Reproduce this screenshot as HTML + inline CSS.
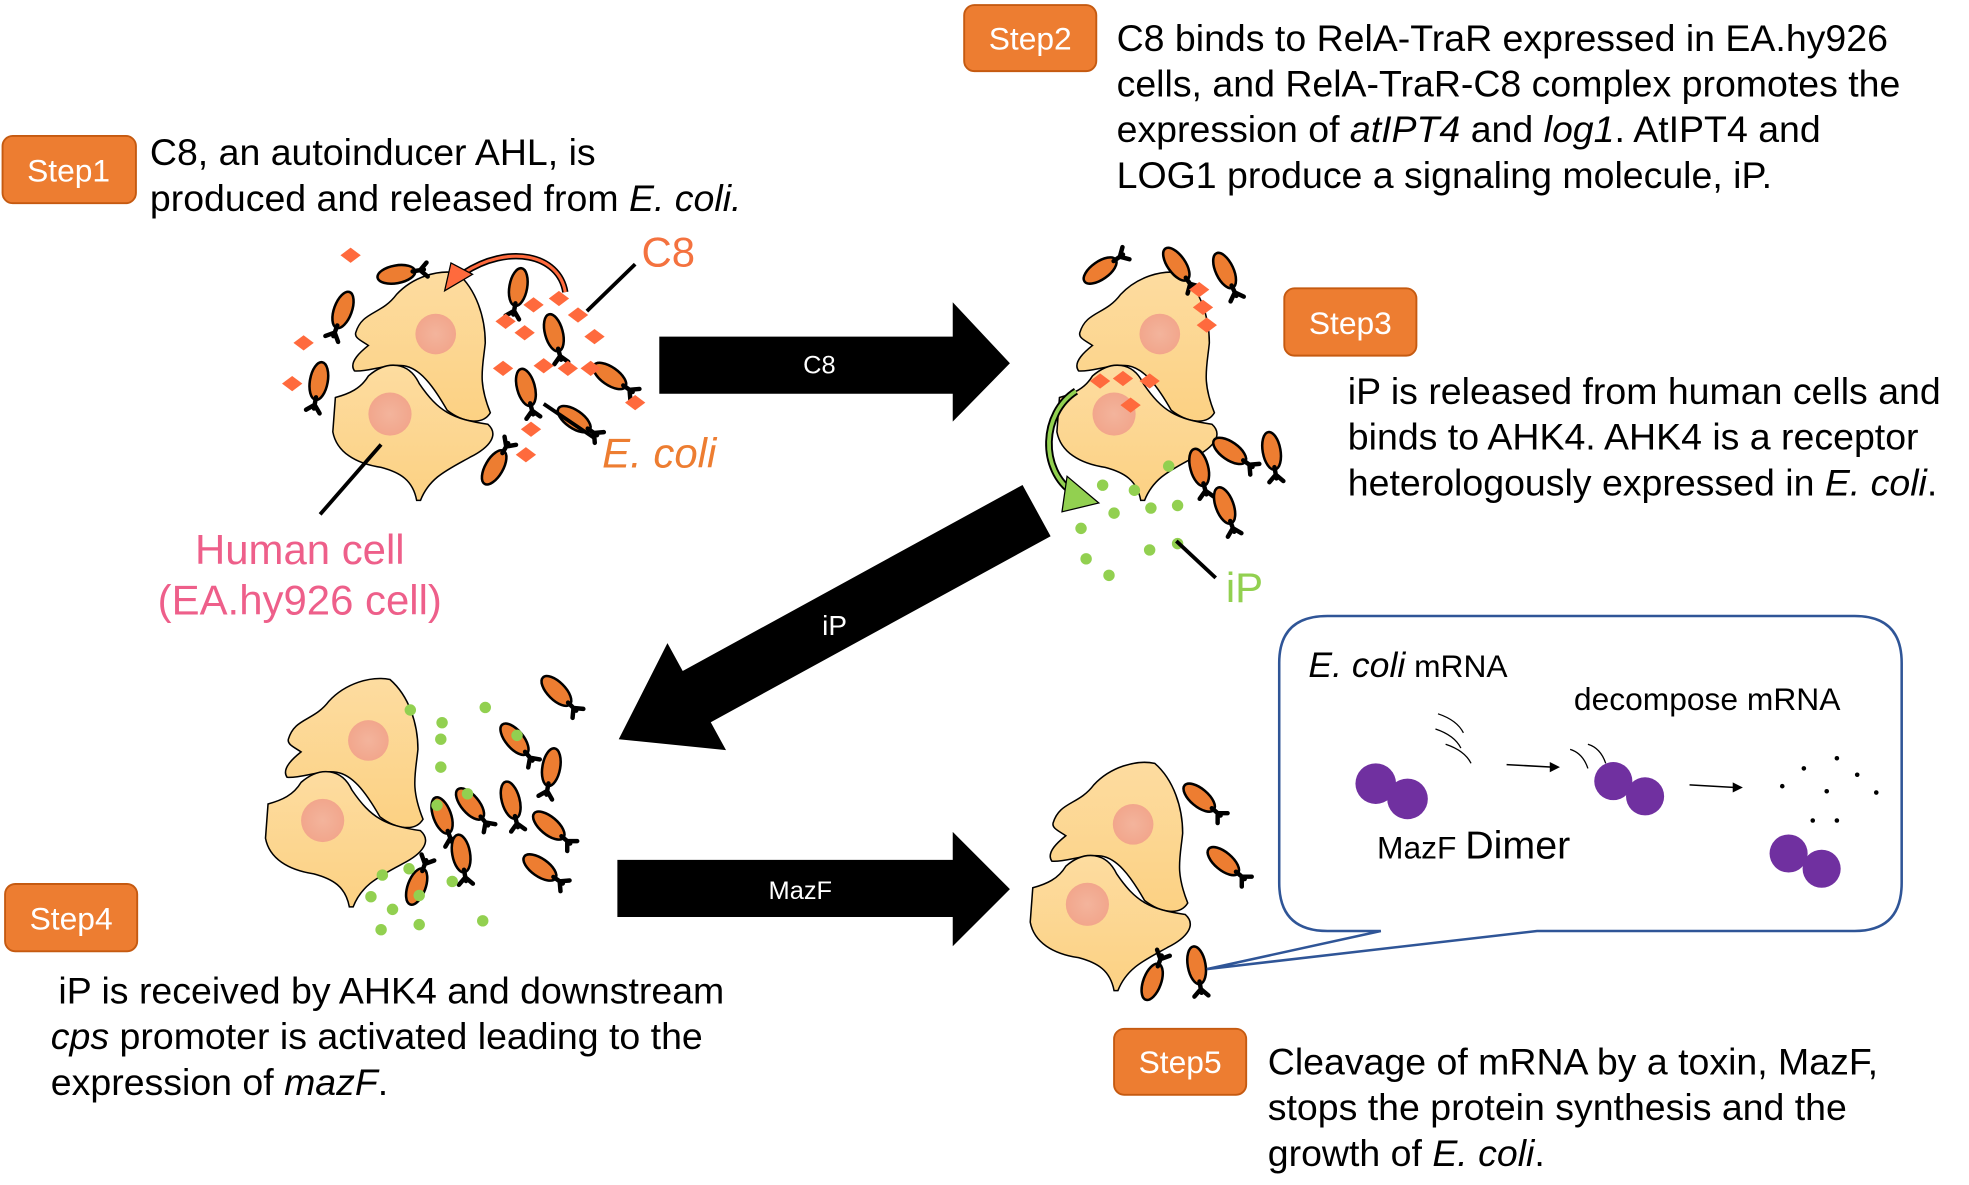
<!DOCTYPE html>
<html><head><meta charset="utf-8"><style>
html,body{margin:0;padding:0;background:#fff;}
svg{display:block;}
text{font-family:"Liberation Sans",sans-serif;}
</style></head><body>
<svg id="fig" width="1969" height="1185" viewBox="0 0 1550 933" preserveAspectRatio="none">
<defs>
<linearGradient id="cellg" x1="0" y1="0" x2="0" y2="1"><stop offset="0" stop-color="#FDDCA0"/><stop offset="1" stop-color="#FCD183"/></linearGradient>
<radialGradient id="nucg"><stop offset="0" stop-color="#F3B49C"/><stop offset="1" stop-color="#F2A68C"/></radialGradient>
<g id="cellpair">
<path d="M280,262 C285,245 300,248 312,232 C325,218 345,212 360,215 C375,228 382,250 382,270 C380,290 376,300 386,325 C380,335 365,333 352,323 C340,302 330,290 318,288 C305,286 290,293 279,292 C274,285 285,276 290,272 C284,268 279,266 280,262 Z" fill="url(#cellg)" stroke="#000" stroke-width="1.2"/>
<path d="M264,313 C275,310 284,306 290,296 C305,283 322,285 330,302 C345,324 356,330 384,334 C393,342 386,352 370,360 C352,370 338,376 331,394 L328,394 C325,378 315,372 300,368 C280,365 265,356 262,340 Z" fill="url(#cellg)" stroke="#000" stroke-width="1.2"/>
<circle cx="343" cy="263" r="16" fill="url(#nucg)"/>
<circle cx="307" cy="326" r="17" fill="url(#nucg)"/>
</g>
<g id="bact">
<ellipse cx="0" cy="0" rx="7" ry="15" fill="#ED7D31" stroke="#000" stroke-width="2"/>
<path d="M0,13 L0,22 M0,19 L-6,24 M0,19 L5,25" stroke="#000" stroke-width="3.5" fill="none" stroke-linecap="round"/>
</g>
</defs>

<use href="#cellpair"/>
<use href="#cellpair" transform="translate(570,0)"/>
<use href="#cellpair" transform="translate(-53,320)"/>
<use href="#cellpair" transform="translate(549,386)"/>
<g id="marks"></g>

<g>
<polygon points="519,265 750,265 750,238 795,286 750,332 750,310 519,310" fill="#000"/>
<text x="645" y="294" font-size="20" fill="#fff" text-anchor="middle">C8</text>
</g>
<g>
<polygon points="486,677 750,677 750,655 795,700 750,745 750,722 486,722" fill="#000"/>
<text x="630" y="708" font-size="20" fill="#fff" text-anchor="middle">MazF</text>
</g>
<g>
<g transform="translate(816,402) rotate(151.3)">
<polygon points="0,-23 305,-23 305,-48 375,0 305,48 305,23 0,23" fill="#000"/>
</g>
<text x="657" y="500" font-size="22" fill="#fff" text-anchor="middle">iP</text>
</g>

<path d="M445,230 C440,200 400,192 365,215" fill="none" stroke="#000" stroke-width="5"/>
<path d="M445,230 C440,200 400,192 365,215" fill="none" stroke="#FF6A3D" stroke-width="2.5"/>
<polygon points="350,229 355,207 372,216" fill="#FF6A3D" stroke="#000" stroke-width="1"/>
<path d="M847,308 C820,325 818,370 845,388" fill="none" stroke="#000" stroke-width="6"/>
<path d="M847,308 C820,325 818,370 845,388" fill="none" stroke="#92D050" stroke-width="3"/>
<polygon points="865,396 840,375 836,403" fill="#92D050" stroke="#000" stroke-width="1"/>

<line x1="500" y1="208" x2="462" y2="245" stroke="#000" stroke-width="3"/>
<line x1="428" y1="318" x2="468" y2="345" stroke="#000" stroke-width="3"/>
<line x1="252" y1="405" x2="300" y2="350" stroke="#000" stroke-width="3"/>
<line x1="926" y1="426" x2="957" y2="455" stroke="#000" stroke-width="3"/>

<text x="505" y="210" font-size="33" fill="#F4723F">C8</text>
<text x="474" y="368" font-size="33" fill="#ED7D31" font-style="italic">E. coli</text>
<text x="236" y="444" font-size="33" fill="#EE5F8A" text-anchor="middle">Human cell</text>
<text x="236" y="484" font-size="33" fill="#EE5F8A" text-anchor="middle">(EA.hy926 cell)</text>
<text x="965" y="474" font-size="33" fill="#92D050">iP</text>

<g><rect x="2" y="107" width="105" height="53" rx="8" fill="#ED7D31" stroke="#C55A11" stroke-width="1.5"/><text x="54" y="143" font-size="25" fill="#fff" text-anchor="middle">Step1</text></g>
<g><rect x="759" y="4" width="104" height="52" rx="8" fill="#ED7D31" stroke="#C55A11" stroke-width="1.5"/><text x="811" y="39" font-size="25" fill="#fff" text-anchor="middle">Step2</text></g>
<g><rect x="1011" y="227" width="104" height="53" rx="8" fill="#ED7D31" stroke="#C55A11" stroke-width="1.5"/><text x="1063" y="263" font-size="25" fill="#fff" text-anchor="middle">Step3</text></g>
<g><rect x="4" y="696" width="104" height="53" rx="8" fill="#ED7D31" stroke="#C55A11" stroke-width="1.5"/><text x="56" y="732" font-size="25" fill="#fff" text-anchor="middle">Step4</text></g>
<g><rect x="877" y="810" width="104" height="52" rx="8" fill="#ED7D31" stroke="#C55A11" stroke-width="1.5"/><text x="929" y="845" font-size="25" fill="#fff" text-anchor="middle">Step5</text></g>

<g font-size="29.5" fill="#000">
<text x="118" y="130">C8, an autoinducer AHL, is</text>
<text x="118" y="166">produced and released from <tspan font-style="italic">E. coli.</tspan></text>
</g>
<g font-size="29.5" fill="#000">
<text x="879" y="40">C8 binds to RelA-TraR expressed in EA.hy926</text>
<text x="879" y="76">cells, and RelA-TraR-C8 complex promotes the</text>
<text x="879" y="112">expression of <tspan font-style="italic">atIPT4</tspan> and <tspan font-style="italic">log1</tspan>. AtIPT4 and</text>
<text x="879" y="148">LOG1 produce a signaling molecule, iP.</text>
</g>
<g font-size="29.5" fill="#000">
<text x="1061" y="318">iP is released from human cells and</text>
<text x="1061" y="354">binds to AHK4. AHK4 is a receptor</text>
<text x="1061" y="390">heterologously expressed in <tspan font-style="italic">E. coli</tspan>.</text>
</g>
<g font-size="29.5" fill="#000">
<text x="46" y="790">iP is received by AHK4 and downstream</text>
<text x="40" y="826"><tspan font-style="italic">cps</tspan> promoter is activated leading to the</text>
<text x="40" y="862">expression of <tspan font-style="italic">mazF</tspan>.</text>
</g>
<g font-size="29.5" fill="#000">
<text x="998" y="846">Cleavage of mRNA by a toxin, MazF,</text>
<text x="998" y="882">stops the protein synthesis and the</text>
<text x="998" y="918">growth of <tspan font-style="italic">E. coli</tspan>.</text>
</g>

<g>
<path d="M1045,485 L1460,485 Q1497,485 1497,522 L1497,695 Q1497,733 1460,733 L1210,733 L950,763 L1087,733 L1045,733 Q1007,733 1007,695 L1007,522 Q1007,485 1045,485 Z" fill="#fff" stroke="#2F5597" stroke-width="2"/>
<text x="1030" y="533" font-size="28"><tspan font-style="italic">E. coli</tspan><tspan font-size="25"> mRNA</tspan></text>
<text x="1239" y="559" font-size="25">decompose  mRNA</text>
<text x="1084" y="676" font-size="25">MazF <tspan font-size="31">Dimer</tspan></text>
<path d="M1132,562 q15,5 20,15 M1130,574 q15,5 20,15 M1138,586 q15,5 20,15 M1236,590 q10,3 14,15 M1250,586 q10,3 14,15" fill="none" stroke="#000" stroke-width="1"/>
<line x1="1186" y1="602" x2="1222" y2="604" stroke="#000" stroke-width="1.2"/><polygon points="1228,604 1220,600 1220,608" fill="#000"/>
<line x1="1330" y1="618" x2="1366" y2="620" stroke="#000" stroke-width="1.2"/><polygon points="1372,620 1364,616 1364,624" fill="#000"/>
<g fill="#7030A0"><circle cx="1083" cy="617" r="16"/><circle cx="1108" cy="629" r="16"/><circle cx="1270" cy="615" r="15"/><circle cx="1295" cy="627" r="15"/><circle cx="1408" cy="672" r="15"/><circle cx="1434" cy="684" r="15"/></g>
<g fill="#000"><circle cx="1403" cy="619" r="1.8"/><circle cx="1420" cy="605" r="1.8"/><circle cx="1446" cy="597" r="1.8"/><circle cx="1438" cy="623" r="1.8"/><circle cx="1462" cy="610" r="1.8"/><circle cx="1477" cy="624" r="1.8"/><circle cx="1427" cy="646" r="1.8"/><circle cx="1446" cy="646" r="1.8"/></g>
</g>
</svg>
<script>
const NS="http://www.w3.org/2000/svg";
const marks=document.getElementById('marks');
const bacteria=[[312,216,-100],[270,244,20],[251,300,10],[408,226,10],[436,262,-15],[414,305,-15],[452,330,-55],[480,296,-55],[389,368,210],
[866,213,235],[926,208,-35],[964,213,-25],[944,368,-15],[968,355,-55],[1001,355,-10],[964,398,-20],
[438,544,-45],[405,582,-40],[434,604,10],[348,642,-20],[370,633,-40],[402,630,-15],[432,650,-50],[363,672,-10],[328,698,200],[425,683,-55],
[944,628,-50],[963,678,-50],[942,760,-10],[907,773,200]];
for(const b of bacteria){
  const u=document.createElementNS(NS,'use');
  u.setAttribute('href','#bact');
  u.setAttribute('transform','translate('+b[0]+','+b[1]+') rotate('+b[2]+')');
  
  
  marks.appendChild(u);
}
const diamonds=[[276,201],[239,270],[230,302],[398,253],[420,240],[440,235],[455,248],[413,262],[468,265],[396,290],[428,288],[447,290],[465,290],[500,317],[418,338],[414,358],
[944,228],[947,242],[950,256],[866,300],[884,298],[905,300],[890,319]];
for(const d of diamonds){
  const p=document.createElementNS(NS,'polygon');
  const x=d[0],y=d[1];
  p.setAttribute('points',(x-8)+','+y+' '+x+','+(y-6)+' '+(x+8)+','+y+' '+x+','+(y+6));
  p.setAttribute('fill','#FF6A3D');
  
  
  marks.appendChild(p);
}
const dots=[[868,382],[893,386],[920,367],[851,416],[877,404],[906,400],[927,398],[855,440],[905,433],[927,428],[873,453],
[323,559],[348,569],[382,557],[347,582],[347,604],[407,579],[368,625],[344,634],[301,689],[322,684],[292,706],[309,716],[330,705],[356,694],[300,732],[330,728],[380,725]];
for(const d of dots){
  const c=document.createElementNS(NS,'circle');
  c.setAttribute('cx',d[0]);c.setAttribute('cy',d[1]);c.setAttribute('r',4.5);
  c.setAttribute('fill','#92D050');
  
  
  marks.appendChild(c);
}
</script>
</body></html>
